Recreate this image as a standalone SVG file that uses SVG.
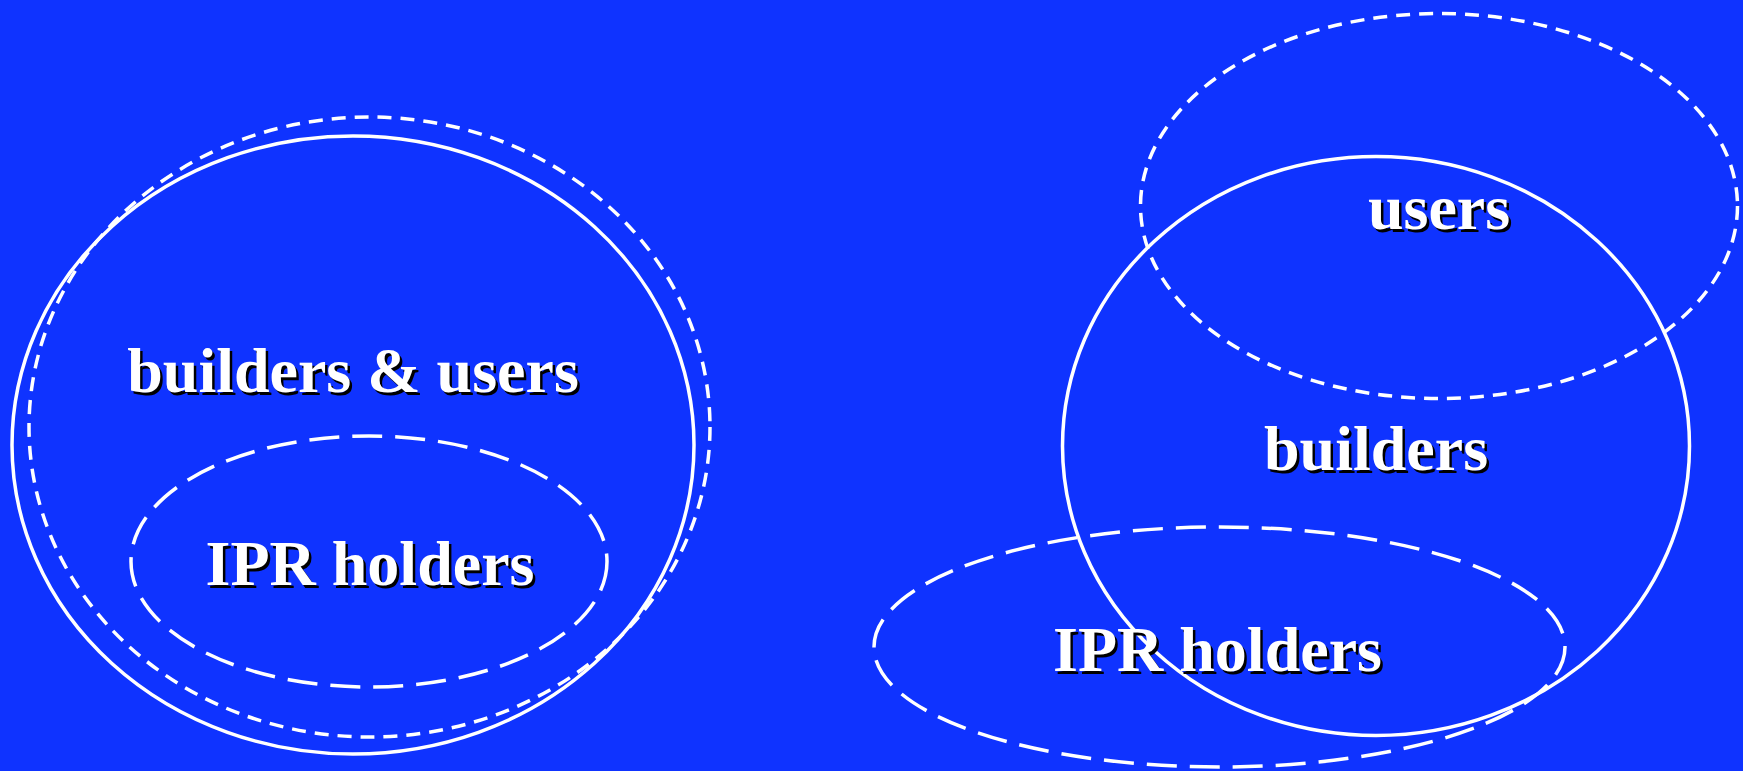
<svg xmlns="http://www.w3.org/2000/svg" width="1743" height="771" viewBox="0 0 1743 771">
<style>
.solid{fill:none;stroke:#fff;stroke-width:3.5}
.short{fill:none;stroke:#fff;stroke-width:3.5;stroke-dasharray:14 9}
.long{fill:none;stroke:#fff;stroke-width:3.5;stroke-dasharray:30 13}
text{font-family:"Liberation Serif","Times New Roman",serif;font-weight:bold;font-size:64px;text-anchor:middle}
.sh{fill:#000}
.fg{fill:#fff}
</style>
<rect width="1743" height="771" fill="#0f33ff"/>
<g id="left-builders-users">
<ellipse class="solid" cx="353" cy="445" rx="341" ry="309"/>
<text class="sh" x="355.5" y="394.5">builders &amp; users</text>
<text class="fg" x="353" y="392">builders &amp; users</text>
</g>
<g id="left-outer-dashed">
<ellipse class="short" cx="369.5" cy="427" rx="340.5" ry="310"/>
</g>
<g id="left-ipr">
<ellipse class="long" cx="369" cy="561.5" rx="238" ry="125.5"/>
<text class="sh" x="372.5" y="587.5">IPR holders</text>
<text class="fg" x="370" y="585">IPR holders</text>
</g>
<g id="right-users">
<ellipse class="short" cx="1439" cy="206" rx="298.5" ry="192.5"/>
<text class="sh" x="1441.5" y="231.5">users</text>
<text class="fg" x="1439" y="229">users</text>
</g>
<g id="right-builders">
<ellipse class="solid" cx="1376" cy="446" rx="313.5" ry="289.5"/>
<text class="sh" x="1378.5" y="472.5">builders</text>
<text class="fg" x="1376" y="470">builders</text>
</g>
<g id="right-ipr">
<ellipse class="long" cx="1219.5" cy="647" rx="345.5" ry="120"/>
<text class="sh" x="1220" y="673.5">IPR holders</text>
<text class="fg" x="1217.5" y="671">IPR holders</text>
</g>
<g id="connectors"></g>
</svg>
